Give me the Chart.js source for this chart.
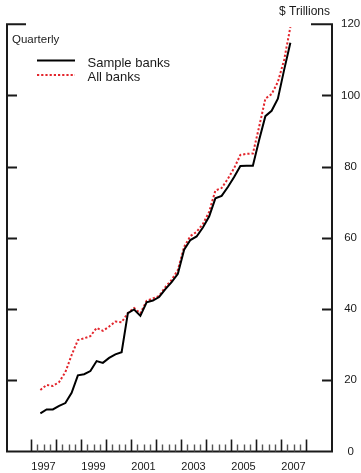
<!DOCTYPE html>
<html>
<head>
<meta charset="utf-8">
<script src="https://cdn.jsdelivr.net/npm/chart.js@4/dist/chart.umd.min.js"></script>
<style>
  html, body { margin: 0; padding: 0; background: #ffffff; }
  #wrap { width: 361px; height: 473px; }
</style>
</head>
<body>
<div id="wrap"><canvas id="chart" width="361" height="473"></canvas></div>
<script>
// Quarterly observations, 1997Q2 through 2007Q2
const quarters = [
  '1997Q2','1997Q3','1997Q4',
  '1998Q1','1998Q2','1998Q3','1998Q4',
  '1999Q1','1999Q2','1999Q3','1999Q4',
  '2000Q1','2000Q2','2000Q3','2000Q4',
  '2001Q1','2001Q2','2001Q3','2001Q4',
  '2002Q1','2002Q2','2002Q3','2002Q4',
  '2003Q1','2003Q2','2003Q3','2003Q4',
  '2004Q1','2004Q2','2004Q3','2004Q4',
  '2005Q1','2005Q2','2005Q3','2005Q4',
  '2006Q1','2006Q2','2006Q3','2006Q4',
  '2007Q1','2007Q2'
];

// $ trillions
const sampleBanks = [
  10.7, 11.8, 11.8,
  12.8, 13.6, 16.5, 21.4,
  21.7, 22.6, 25.4, 24.9,
  26.3, 27.3, 27.9, 38.9,
  39.9, 38.1, 41.9, 42.4,
  43.4, 45.6, 47.6, 49.9,
  56.7, 59.4, 60.4, 62.9,
  66.0, 71.1, 71.8, 74.3,
  77.1, 80.2, 80.3, 80.3,
  87.5, 94.2, 95.7, 99.1,
  107.2, 114.8
];

const allBanks = [
  17.3, 18.7, 18.4,
  19.5, 22.3, 27.1, 31.3,
  31.8, 32.4, 34.7, 33.9,
  35.1, 36.5, 36.3, 38.9,
  40.3, 38.8, 42.3, 43.0,
  43.7, 46.2, 48.2, 51.0,
  57.5, 60.5, 61.7, 63.9,
  67.3, 73.3, 74.0, 76.6,
  79.6, 83.3, 83.6, 83.7,
  91.2, 99.1, 100.4, 103.8,
  110.0, 119.2
];

// Year tick labels (centred on each labelled year)
const yearLabels = [1997, 1999, 2001, 2003, 2005, 2007];
// Year boundaries carrying the long ticks
const yearBounds = [1997, 1998, 1999, 2000, 2001, 2002, 2003, 2004, 2005, 2006, 2007, 2008];
const yTicks = [0, 20, 40, 60, 80, 100, 120];

const FONT = "'Liberation Sans', Arial, Helvetica, sans-serif";
const INK = '#1a1a1a';
const RED = '#e3262d';

// place each quarter at its mid-point on a decimal-year axis
function quarterPos(q) {
  const yr = parseInt(q.slice(0, 4), 10);
  const qn = parseInt(q.slice(5), 10);
  return yr + (qn - 1) / 4 + 0.125;
}
const toPoints = vals => vals.map((v, i) => ({ x: quarterPos(quarters[i]), y: v }));

// Frame, inward ticks, annotations and key
const framePlugin = {
  id: 'frame',
  afterDraw(chart) {
    const { ctx, chartArea: a, scales } = chart;
    const xs = scales.x, ys = scales.y;
    ctx.save();
    ctx.strokeStyle = INK;
    ctx.lineCap = 'butt';

    // outer frame: sides, bottom and short caps at the top
    const top = ys.getPixelForValue(120);
    const bot = ys.getPixelForValue(0);
    ctx.lineWidth = 2;
    ctx.beginPath();
    ctx.moveTo(a.left + 19, top);
    ctx.lineTo(a.left, top);
    ctx.lineTo(a.left, bot);
    ctx.lineTo(a.right, bot);
    ctx.lineTo(a.right, top);
    ctx.lineTo(a.right - 21, top);
    ctx.stroke();

    // value ticks pointing inward on both sides
    ctx.lineWidth = 2;
    ctx.beginPath();
    yTicks.slice(1, -1).forEach(v => {
      const y = Math.round(ys.getPixelForValue(v)) + 0.5;
      ctx.moveTo(a.left, y); ctx.lineTo(a.left + 10, y);
      ctx.moveTo(a.right - 10, y); ctx.lineTo(a.right, y);
    });
    ctx.stroke();

    // year ticks (long) and quarter ticks (short)
    ctx.lineWidth = 1.6;
    ctx.beginPath();
    yearBounds.forEach(yr => {
      const x = Math.round(xs.getPixelForValue(yr)) + 0.5;
      ctx.moveTo(x, bot); ctx.lineTo(x, bot - 12);
    });
    ctx.stroke();
    ctx.strokeStyle = '#555';
    ctx.lineWidth = 1.4;
    ctx.beginPath();
    yearBounds.slice(0, -1).forEach(yr => {
      for (let q = 1; q < 4; q++) {
        const x = Math.round(xs.getPixelForValue(yr + q / 4)) + 0.5;
        ctx.moveTo(x, bot); ctx.lineTo(x, bot - 7);
      }
    });
    ctx.stroke();

    // texts
    ctx.fillStyle = INK;
    ctx.textBaseline = 'middle';
    ctx.font = '12px ' + FONT;
    ctx.textAlign = 'right';
    ctx.fillText('$ Trillions', 330, 12);
    ctx.textAlign = 'left';
    ctx.font = '11.5px ' + FONT;
    ctx.fillText('Quarterly', 12, 39.5);

    // key
    const ds = chart.data.datasets;
    const keyRows = [62, 76.5];
    ds.forEach((d, i) => {
      const y = keyRows[i];
      ctx.save();
      ctx.strokeStyle = d.borderColor;
      ctx.lineWidth = 2;
      ctx.setLineDash(d.borderDash || []);
      ctx.beginPath();
      ctx.moveTo(37, y - 1.5);
      ctx.lineTo(75, y - 1.5);
      ctx.stroke();
      ctx.restore();
      ctx.fillStyle = INK;
      ctx.font = '13px ' + FONT;
      ctx.textAlign = 'left';
      ctx.fillText(d.label, 87.5, y + 1);
    });
    ctx.restore();
  }
};

new Chart(document.getElementById('chart'), {
  type: 'line',
  data: {
    datasets: [
      {
        label: 'Sample banks',
        data: toPoints(sampleBanks),
        borderColor: '#000000',
        borderWidth: 2,
        pointRadius: 0,
        tension: 0,
        fill: false
      },
      {
        label: 'All banks',
        data: toPoints(allBanks),
        borderColor: RED,
        borderWidth: 2,
        borderDash: [2.2, 2],
        pointRadius: 0,
        tension: 0,
        fill: false
      }
    ]
  },
  options: {
    responsive: false,
    animation: false,
    layout: { padding: { left: 7, top: 24.3, right: 0, bottom: 0 } },
    plugins: {
      legend: { display: false },
      tooltip: { enabled: false }
    },
    scales: {
      x: {
        type: 'linear',
        position: 'bottom',
        min: 1996.04,
        max: 2009.04,
        grid: { display: false, drawTicks: false },
        border: { display: false },
        afterBuildTicks: s => { s.ticks = yearLabels.map(y => ({ value: y + 0.5 })); },
        afterFit: s => { s.height = 21.5; },
        ticks: {
          autoSkip: false,
          maxRotation: 0,
          padding: 9,
          color: INK,
          font: { family: FONT, size: 11 },
          callback: v => String(Math.floor(v))
        }
      },
      y: {
        position: 'right',
        min: 0,
        max: 120,
        grid: { display: false, drawTicks: false },
        border: { display: false },
        afterBuildTicks: s => { s.ticks = yTicks.map(v => ({ value: v })); },
        afterFit: s => { s.width = 29; },
        ticks: {
          padding: 9,
          crossAlign: 'center',
          color: INK,
          font: { family: FONT, size: 11.5 }
        }
      }
    }
  },
  plugins: [framePlugin]
});
</script>
</body>
</html>
